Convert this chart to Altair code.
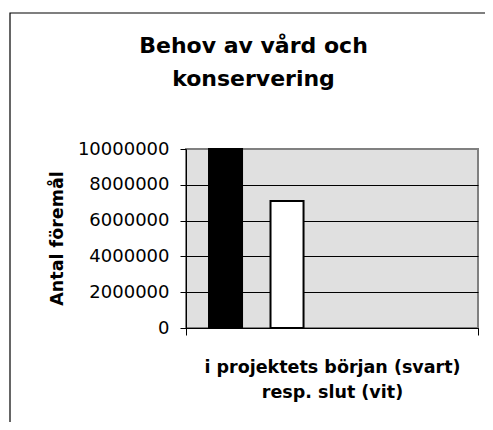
import altair as alt
import pandas as pd

# Data
serie = ["början", "slut"]
antal = [10000000, 7100000]
fyllning = ["#000000", "#ffffff"]
kategori = ["i projektets början (svart) resp. slut (vit)"]
serie_domain = ["början", "slut", "s3", "s4"]
y_ticks = [0, 2000000, 4000000, 6000000, 8000000, 10000000]
titel = "Behov av vård och\nkonservering"

df = pd.DataFrame({
    "kategori": kategori * len(serie),
    "serie": serie,
    "antal": antal,
    "fyllning": fyllning,
})

FONT = "DejaVu Sans"

bars = alt.Chart(df).mark_bar(stroke="#000000", strokeWidth=2).encode(
    x=alt.X("kategori:N",
            scale=alt.Scale(paddingInner=0, paddingOuter=0),
            axis=alt.Axis(
                title=["i projektets början (svart)", "resp. slut (vit)"],
                labels=False, tickBand="extent", tickSize=7, tickColor="#000000",
                domainColor="#000000", titleFont=FONT, titleFontSize=17.5,
                titleFontWeight="bold", titleColor="#000000",
                titleBaseline="alphabetic", titleY=44, titleLineHeight=25)),
    xOffset=alt.XOffset("serie:N",
                        scale=alt.Scale(domain=serie_domain, paddingInner=0.463,
                                        paddingOuter=0.6055, align=0.309)),
    y=alt.Y("antal:Q",
            scale=alt.Scale(domain=[0, 10000000]),
            axis=alt.Axis(
                title="Antal föremål", values=y_ticks, format="d",
                tickSize=6, tickColor="#000000", domainColor="#000000",
                labelFont=FONT, labelFontSize=18, labelColor="#000000",
                labelPadding=11,
                grid=True, gridColor={"condition": {"test": "datum.value == 10000000", "value": "#808080"}, "value": "#000000"},
                titleFont=FONT, titleFontSize=17.5, titleFontWeight="bold",
                titleColor="#000000", titleBaseline="alphabetic",
                titleAlign="center", titleX=-124, titleY=89)),
    fill=alt.Fill("fyllning:N", scale=None, legend=None),
)

frame = alt.Chart(alt.Data(values=[{}])).mark_rect(
    fill="transparent", stroke="#000000", strokeWidth=1.2
).encode(x=alt.value(-176), y=alt.value(-136), x2=alt.value(500), y2=alt.value(500))

title_text = alt.Chart(alt.Data(values=[{}])).mark_text(
    font=FONT, fontSize=22, fontWeight="bold", color="#000000",
    align="center", baseline="alphabetic", lineBreak="\n", lineHeight=33
).encode(x=alt.value(67.5), y=alt.value(-96), text=alt.value(titel))

chart = alt.layer(frame, bars, title_text).properties(
    width=292, height=179,
    background="#ffffff",
    autosize=alt.AutoSizeParams(type="none"),
    padding={"left": 178, "top": 141, "right": 7, "bottom": 94},
).configure_view(
    fill="#E0E0E0", stroke="#808080", strokeWidth=2
)

chart.save("out.html", embed_options={"renderer": "svg", "actions": False})
